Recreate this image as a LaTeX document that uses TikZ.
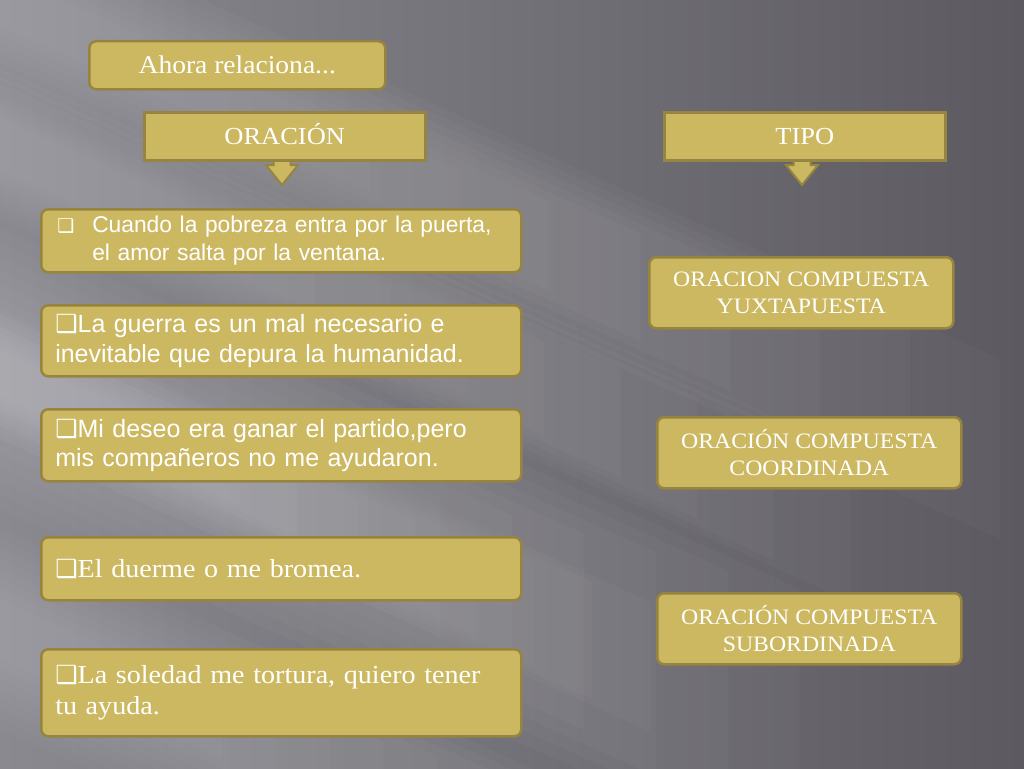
\documentclass[tikz,border=0pt]{standalone}
\usepackage{fontspec}
\setmainfont{Liberation Serif}[FakeStretch=1.08]
\newfontfamily\sansf{Liberation Sans}
\newfontfamily\symf{DejaVu Sans}
\definecolor{boxfill}{HTML}{CDB862}
\definecolor{boxline}{HTML}{958540}
\definecolor{bgbase}{HTML}{5C5A60}
\definecolor{bgmid}{HTML}{6D6C72}
\definecolor{bglight}{HTML}{8A8990}
\tikzset{
  gbox/.style={draw=boxline, line width=2.5pt, fill=boxfill, rounded corners=7pt, text=white, inner sep=0pt, anchor=north west},
  hbox/.style={draw=boxline, line width=2.5pt, fill=boxfill, text=white, inner sep=0pt, anchor=north west, text height=19pt, text depth=3pt},
  barrow/.style={draw=boxline, line width=2pt, fill=boxfill, line join=miter},
  serL/.style={font=\fontsize{26}{31}\selectfont, align=left},
  sanL/.style={font=\sansf\fontsize{25}{29.5}\selectfont, align=left},
  serR/.style={font=\fontsize{22}{27}\selectfont, align=center},
  band/.style={fill=white, fill opacity=0.025, draw=none}
}
\newcommand{\bul}[1]{{\symf\fontsize{#1}{#1}\selectfont ❑}}
% soft diagonal band: left edge y-range #1..#2, slope 0.45, max length to x=#3, step #4
\newcommand{\softband}[4]{%
  \foreach \k in {0,...,7}{%
    \pgfmathsetmacro{\d}{\k*#4}%
    \pgfmathsetmacro{\xe}{#3*(1-\k*0.09)}%
    \fill[band] (-20,{#1+\d}) -- (-20,{#2-\d}) -- (\xe,{#2-\d+0.45*(\xe+20)}) -- (\xe,{#1+\d+0.45*(\xe+20)}) -- cycle;}}
\begin{document}
\begin{tikzpicture}[x=1pt,y=-1pt]
\useasboundingbox (0,0) rectangle (1024,768);
% background
\shade[left color=bglight, middle color=bgmid, right color=bgbase] (0,0) rectangle (1024,768);
\begin{scope}
\clip (0,0) rectangle (1024,768);
\softband{-100}{80}{1000}{9}
\softband{60}{210}{850}{7}
\softband{220}{500}{800}{14}
\softband{300}{430}{650}{6}
\softband{520}{720}{600}{10}
\end{scope}
% arrows (drawn first, boxes cover their tops)
\coordinate (oa) at (282,159);
\coordinate (ta) at (802,159);
\foreach \c in {oa,ta}{
  \draw[barrow] ([xshift=-8.5pt]\c) -- ([xshift=-8.5pt,yshift=-6pt]\c) -- ([xshift=-16pt,yshift=-6pt]\c)
    -- ([yshift=-26pt]\c) -- ([xshift=16pt,yshift=-6pt]\c) -- ([xshift=8.5pt,yshift=-6pt]\c) -- ([xshift=8.5pt]\c);
}
% header boxes
\node[gbox, minimum width=296pt, minimum height=48pt, font=\fontsize{25.5}{28}\selectfont] (ahora) at (88,40) {Ahora relaciona...};
\node[hbox, minimum width=281pt, minimum height=48pt, font=\fontsize{24.5}{28}\selectfont] (orac) at (143,111) {ORACIÓN};
\node[hbox, minimum width=281pt, minimum height=48pt, font=\fontsize{24.5}{28}\selectfont] (tipo) at (663,111) {TIPO};
% left boxes
\node[gbox, minimum width=480pt, minimum height=63pt, text width=468pt, inner xsep=6pt, align=left,
  font=\sansf\fontsize{22.8}{28}\selectfont] (s1) at (40,208)
  {\makebox[45pt][l]{\hspace{10pt}\bul{19}}Cuando la pobreza entra por la puerta,\\\hspace*{45pt}el amor salta por la ventana.};
\node[gbox, minimum width=480pt, minimum height=71pt, text width=452pt, inner xsep=14pt, sanL] (s2) at (40,304)
  {\bul{25}La guerra es un mal necesario e\\inevitable que depura la humanidad.};
\node[gbox, minimum width=480pt, minimum height=72pt, text width=452pt, inner xsep=14pt, sanL] (s3) at (40,408)
  {\bul{25}Mi deseo era ganar el partido,pero\\mis compañeros no me ayudaron.};
\node[gbox, minimum width=480pt, minimum height=63pt, text width=452pt, inner xsep=14pt, serL] (s4) at (40,536)
  {\bul{25}El duerme o me bromea.};
\node[gbox, minimum width=480pt, minimum height=87pt, text width=452pt, inner xsep=14pt, serL] (s5) at (40,648)
  {\bul{25}La soledad me tortura, quiero tener\\tu ayuda.};
% right boxes
\node[gbox, minimum width=304pt, minimum height=71pt, serR] (t1) at (648,256) {ORACION COMPUESTA\\YUXTAPUESTA};
\node[gbox, minimum width=304pt, minimum height=71pt, serR] (t2) at (656,416) {ORACIÓN COMPUESTA\\COORDINADA};
\node[gbox, minimum width=304pt, minimum height=71pt, serR] (t3) at (656,592) {ORACIÓN COMPUESTA\\SUBORDINADA};
\end{tikzpicture}
\end{document}
